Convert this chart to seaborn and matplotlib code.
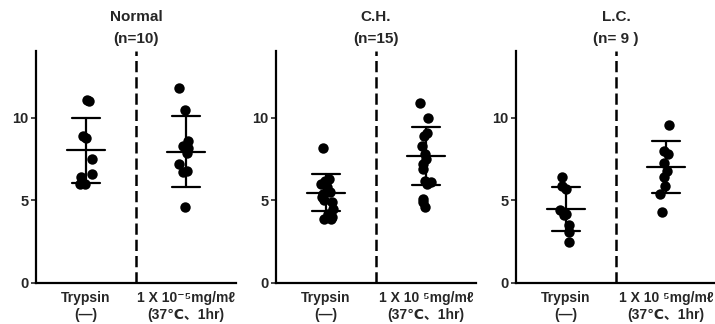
import numpy as np
import pandas as pd
import matplotlib
matplotlib.use("Agg")
import matplotlib.pyplot as plt
import seaborn as sns

# values
panels = ["Normal", "C.H.", "L.C."]
counts = ["(n=10)", "(n=15)", "(n= 9 )"]
groups = ["Trypsin", "Treated"]

normal_ctrl = [11.1, 11.0, 8.9, 8.8, 7.5, 6.6, 6.4, 6.1, 6.0, 6.0]
normal_tryp = [11.8, 10.5, 8.6, 8.3, 8.2, 7.9, 7.2, 6.8, 6.7, 4.6]
ch_ctrl = [8.2, 6.3, 6.2, 6.0, 5.8, 5.5, 5.4, 5.2, 5.0, 4.9, 4.5, 4.2, 4.0, 3.9, 3.9]
ch_tryp = [10.9, 10.0, 9.1, 8.9, 8.3, 7.8, 7.5, 7.2, 6.9, 6.2, 6.1, 6.0, 5.1, 4.9, 4.6]
lc_ctrl = [6.4, 5.9, 5.7, 4.4, 4.2, 4.1, 3.5, 3.1, 2.5]
lc_tryp = [9.6, 8.0, 7.8, 7.3, 6.8, 6.4, 5.9, 5.4, 4.3]

# mean and SD as drawn in the figure
means = [[8.05, 7.96], [5.47, 7.69], [4.46, 7.05]]
sds = [[1.97, 2.14], [1.13, 1.75], [1.33, 1.58]]

xlabels = [
    ["Trypsin\n(—)", "1 X 10⁻⁵mg/mℓ\n(37℃、1hr)"],
    ["Trypsin\n(—)", "1 X 10 ⁵mg/mℓ\n(37℃、1hr)"],
    ["Trypsin\n(—)", "1 X 10 ⁵mg/mℓ\n(37℃、1hr)"],
]

data = [(normal_ctrl, normal_tryp), (ch_ctrl, ch_tryp), (lc_ctrl, lc_tryp)]

sns.set_style("ticks")
fonts = ["Liberation Sans", "DejaVu Sans", "Noto Sans CJK JP"]
plt.rcParams["font.family"] = fonts

fig = plt.figure(figsize=(7.15, 3.24), dpi=100)
lefts = [36 / 715, 276 / 715, 516 / 715]
np.random.seed(3)

for i, (ctrl, tryp) in enumerate(data):
    ax = fig.add_axes([lefts[i], 1 - 283 / 324, 200 / 715, 232 / 324])
    df = pd.DataFrame({
        "group": [groups[0]] * len(ctrl) + [groups[1]] * len(tryp),
        "value": ctrl + tryp,
    })
    sns.stripplot(data=df, x="group", y="value", order=groups, color="black",
                  jitter=0.07, size=7.5, ax=ax, zorder=3)
    for j in range(2):
        m, s = means[i][j], sds[i][j]
        ax.plot([j - 0.19, j + 0.19], [m, m], color="black", lw=1.6)
        ax.plot([j - 0.14, j + 0.14], [m + s, m + s], color="black", lw=1.6)
        ax.plot([j - 0.14, j + 0.14], [m - s, m - s], color="black", lw=1.6)
        ax.plot([j, j], [m - s, m + s], color="black", lw=1.6)
    ax.axvline(0.5, color="black", lw=1.8, ls=(0, (4.5, 2)))
    ax.set_xlim(-0.5, 1.5)
    ax.set_ylim(0, 14.06)
    ax.set_yticks([0, 5, 10])
    ax.set_xticks([0, 1])
    ax.set_xticklabels(xlabels[i], fontsize=10, fontweight="bold", linespacing=1.25)
    ax.tick_params(axis="x", length=0, pad=6)
    ax.tick_params(axis="y", length=3.5, width=1.2, pad=2, labelsize=10.5)
    for t in ax.get_yticklabels():
        t.set_fontweight("bold")
    ax.set_xlabel("")
    ax.set_ylabel("")
    sns.despine(ax=ax)
    for sp in ["left", "bottom"]:
        ax.spines[sp].set_linewidth(1.6)
        ax.spines[sp].set_color("black")
    ax.annotate(panels[i], xy=(0.5, 1), xycoords=("data", "axes fraction"),
                xytext=(0, 24.5), textcoords="offset points", ha="center",
                va="center", fontsize=11, fontweight="bold")
    ax.annotate(counts[i], xy=(0.5, 1), xycoords=("data", "axes fraction"),
                xytext=(0, 9), textcoords="offset points", ha="center",
                va="center", fontsize=11, fontweight="bold")

fig.savefig("out.png", dpi=100)
